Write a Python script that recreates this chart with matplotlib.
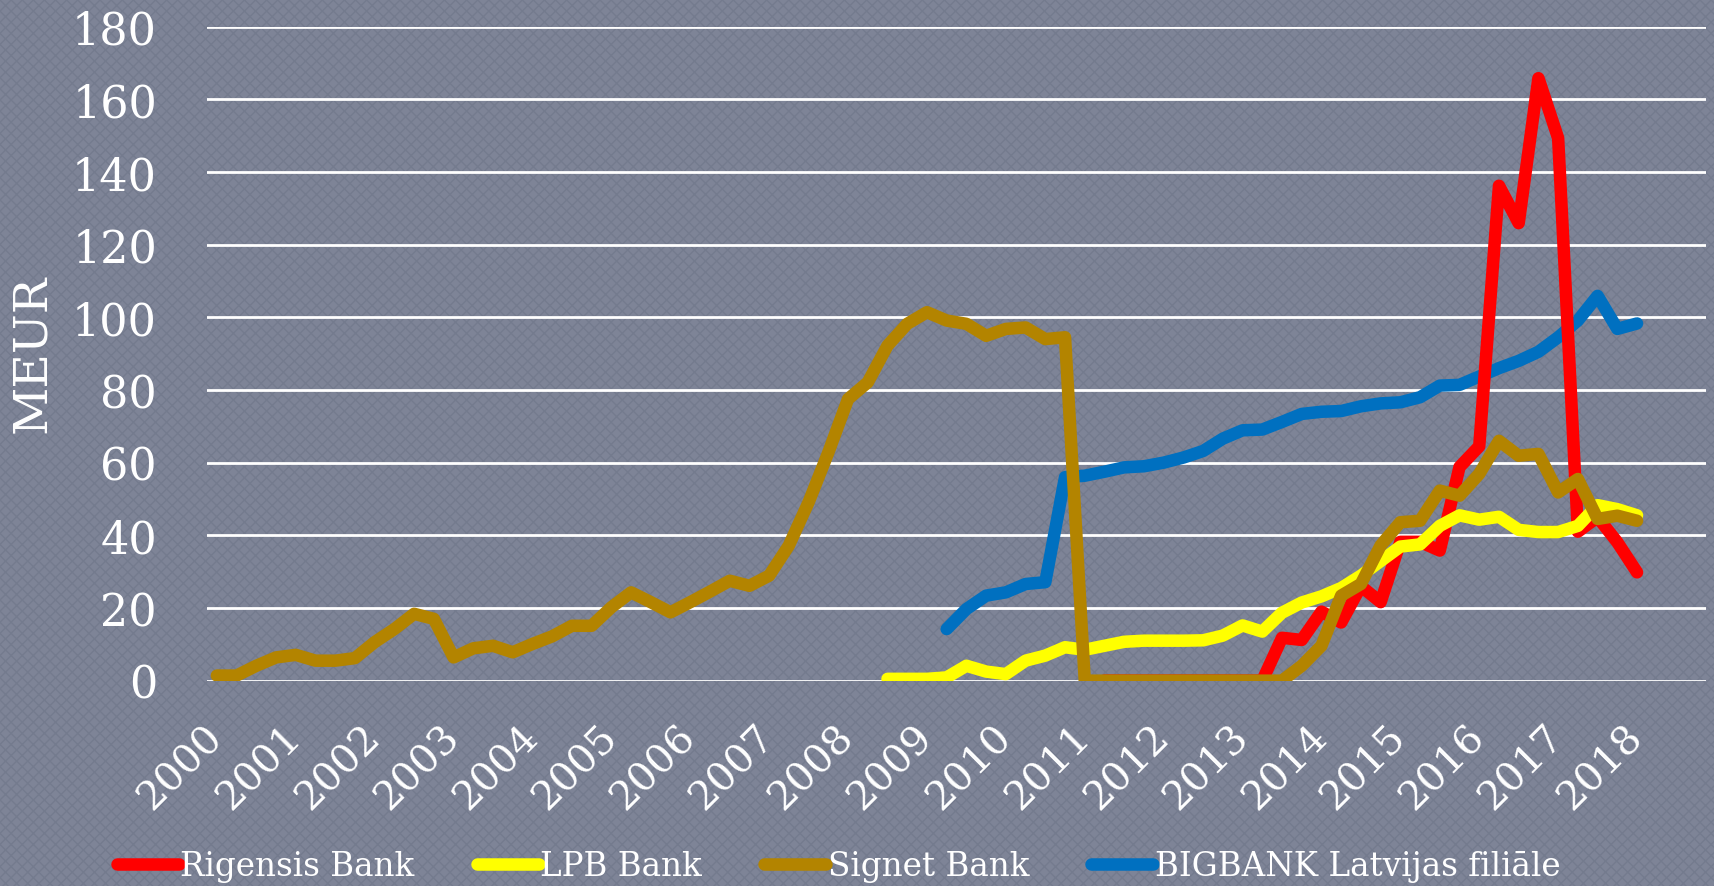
import matplotlib
matplotlib.use("Agg")
import matplotlib.pyplot as plt
import numpy as np
from matplotlib.patches import Rectangle

# quarterly categories 2000Q1 .. 2018Q4, one label per year
years = list(range(2000, 2019))
n_quarters = len(years) * 4

series_names = ["Rigensis Bank", "LPB Bank", "Signet Bank", "BIGBANK Latvijas filiāle"]
series_colors = ["#FF0000", "#FFFF00", "#B38400", "#0070C0"]

# values in MEUR, one per quarter from 2000Q1 (None = no data)
rigensis = [None] * 45 + [0] * 9 + [
    11.8, 11.2, 19.0, 16.0, 26.0, 21.6, 38.2, 38.2, 35.8, 58.8,
    64.5, 136.2, 125.9, 165.8, 149.3, 41.0, 45.0, 38.1, 29.8]

lpb = [None] * 34 + [
    0.5, 0.5, 0.5, 0.9, 4.1, 2.5, 1.8, 5.5, 6.9, 9.2,
    8.5, 9.6, 10.7, 11.0, 11.0, 11.0, 11.1, 12.4, 15.2, 13.5,
    18.7, 21.5, 23.2, 25.5, 28.9, 32.9, 36.9, 37.5, 42.6, 45.5,
    44.3, 45.1, 41.5, 40.9, 40.9, 42.6, 48.3, 47.2, 45.5]

signet = [
    1.4, 1.4, 4.1, 6.4, 7.1, 5.5, 5.5, 6.2, 10.6, 14.2,
    18.4, 17.0, 6.4, 8.9, 9.6, 7.8, 10.1, 12.2, 15.1, 15.1,
    20.2, 24.3, 21.6, 18.8, 21.6, 24.5, 27.5, 26.1, 28.9, 37.2,
    49.1, 62.8, 77.5, 82.1, 92.2, 98.2, 101.4, 99.1, 98.2, 94.9,
    96.8, 97.2, 94.0, 94.5] + [0] * 11 + [
    4.1, 9.6, 23.4, 26.6, 37.2, 43.6, 44.0, 52.3, 50.9, 56.9,
    66.0, 61.9, 62.4, 51.8, 55.5, 44.5, 45.4, 44.0]

bigbank = [None] * 37 + [
    14.2, 19.7, 23.4, 24.3, 26.6, 27.1, 56.0, 56.4, 57.5, 58.7,
    59.0, 60.0, 61.4, 63.2, 66.6, 68.9, 69.1, 71.2, 73.4, 74.0,
    74.2, 75.5, 76.3, 76.6, 78.0, 81.2, 81.4, 83.7, 86.0, 88.0,
    90.5, 94.5, 99.1, 105.9, 96.8, 98.3]

y_ticks = list(range(0, 181, 20))

bg = "#7e8497"
serif = ["DejaVu Serif"]

fig = plt.figure(figsize=(17.15, 8.87), dpi=100, facecolor=bg)
# textured backdrop
fig.patches.append(Rectangle((0, 0), 1, 1, transform=fig.transFigure,
                             facecolor=bg, edgecolor="#747b8e", hatch="xxx",
                             linewidth=0, zorder=-10))

ax = fig.add_axes([0.1207, 0.2315, 0.8741, 0.7374])
ax.set_facecolor("none")

x = np.arange(n_quarters)
all_series = [rigensis, lpb, signet, bigbank]
zorders = [3, 4, 5, 2]
handles = []
for vals, name, col, z in zip(all_series, series_names, series_colors, zorders):
    v = np.array(vals, dtype=float)
    ln, = ax.plot(x[:len(v)], v, color=col, lw=9, label=name, zorder=z,
                  solid_capstyle="round", solid_joinstyle="round")
    handles.append(ln)

ax.set_xlim(-0.5, n_quarters - 0.5)
ax.set_ylim(0, 180)
ax.set_yticks(y_ticks)
ax.yaxis.grid(True, color="white", lw=2, zorder=1)
ax.set_axisbelow(True)
for s in ax.spines.values():
    s.set_visible(False)

ax.set_xticks(x[::4])
ax.set_xticklabels([str(y) for y in years], rotation=45, ha="right",
                   va="center", rotation_mode="anchor",
                   fontsize=29, color="white", family=serif)
ax.tick_params(axis="x", length=0, pad=36)
ax.tick_params(axis="y", length=0, pad=36, labelsize=32, labelcolor="white")
for lab in ax.get_yticklabels():
    lab.set_family(serif)

fig.text(0.019, 0.601, "MEUR", rotation=90, ha="center", va="center",
         fontsize=34, color="white", family=serif)

leg = fig.legend(handles=handles, loc="center", bbox_to_anchor=(0.489, 0.0225),
                 ncol=4, frameon=False, handlelength=1.9, handletextpad=0.05,
                 columnspacing=1.9, prop={"family": serif, "size": 23.5})
for t in leg.get_texts():
    t.set_color("white")

fig.savefig("out.png", dpi=100, facecolor=fig.get_facecolor())
